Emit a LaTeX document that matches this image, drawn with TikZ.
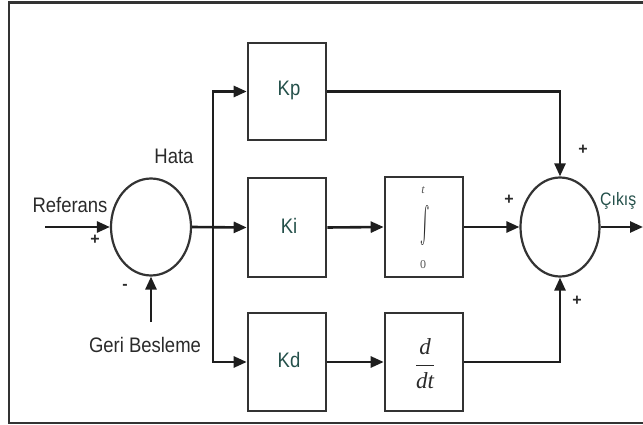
\documentclass[tikz,border=0pt]{standalone}
\usepackage{fontspec}
\usepackage{graphicx}
\setmainfont{Liberation Sans}
\newfontfamily\libserif{Liberation Serif}
\usetikzlibrary{arrows.meta,shapes.geometric}
\definecolor{linegray}{HTML}{1E1E1E}
\definecolor{framegray}{HTML}{333333}
\definecolor{labeltext}{HTML}{2A2A2A}
\definecolor{blocktext}{HTML}{24504A}
\newcommand{\nar}[1]{\scalebox{0.88}[1]{#1}}
\tikzset{
  conn/.style={draw=linegray, line width=2.6pt},
  arr/.style={conn, -{Triangle[length=13pt,width=11pt]}},
  block/.style={draw=framegray, line width=2.6pt, rectangle, minimum width=78pt, inner sep=0pt, fill=white},
  junction/.style={draw=framegray, line width=2.2pt, ellipse, inner sep=0pt},
  lbl/.style={font=\fontsize{21}{24}\selectfont, text=labeltext, inner sep=0pt},
  blbl/.style={font=\fontsize{21}{24}\selectfont, text=blocktext},
  sgn/.style={font=\bfseries\fontsize{16}{17}\selectfont, text=labeltext, inner sep=0pt},
  lim/.style={font=\libserif\fontsize{12}{13}\selectfont, text=labeltext!80, inner sep=0pt},
}
\begin{document}
\begin{tikzpicture}[x=1pt,y=-1pt]
\useasboundingbox (0,0) rectangle (643,425);
% frame (right side cut off)
\draw[draw=framegray, line width=2.2pt] (643,2.5) -- (9,2.5) -- (9,423) -- (643,423);

% junctions
\node[junction, minimum width=80pt, minimum height=97pt] (s1) at (151,227) {};
\node[junction, minimum width=79pt, minimum height=99pt] (s2) at (560,227) {};

% blocks
\node[block, minimum height=97pt] (kp) at (287,91.5) {};
\node[blbl] at (289,90) {\nar{Kp}};
\node[block, minimum height=99pt] (ki) at (287,227.5) {};
\node[blbl] at (289,226) {\nar{Ki}};
\node[block, minimum height=98pt] (kd) at (287,362) {};
\node[blbl] at (289,360) {\nar{Kd}};
\node[block, minimum height=100pt] (int) at (424,227) {};
\node[text=labeltext, inner sep=0pt] (intsign) at (425,226) {\scalebox{1.4}[3.6]{$\int$}};
\node[lim, font=\libserif\itshape\fontsize{12}{13}\selectfont] (intup) at (423,190) {t};
\node[lim] (intlo) at (423,265) {0};
\node[block, minimum height=98pt] (ddt) at (424,362) {};
\node[text=labeltext, font=\fontsize{23}{25}\selectfont] at (425,364) {$\displaystyle\frac{\mbox{\libserif\itshape d}}{\mbox{\libserif\itshape dt}}$};

% free ends
\coordinate (in) at (45,227);
\coordinate (fb) at (151,322);
\coordinate (br) at (213,227);
\coordinate (out) at (643,227);

% connectors
\draw[arr] (in) -- (s1.west);
\draw[arr] (fb) -- (s1.south);
\draw[arr] (s1.east) -- (ki.west);
\draw[arr] (br) |- (kp.west);
\draw[arr] (br) |- (kd.west);
\draw[arr] (ki.east) -- (int.west);
\draw[arr] (kd.east) -- (ddt.west);
\draw[arr] (int.east) -- (s2.west);
\draw[arr] (kp.east) -| (s2.north);
\draw[arr] (ddt.east) -| (s2.south);
\draw[arr] (s2.east) -- (out);

% labels
\node[lbl] at (174,156) {\nar{Hata}};
\node[lbl] at (70,205) {\nar{Referans}};
\node[lbl] at (145,345) {\nar{Geri Besleme}};
\node[lbl, anchor=west, text=blocktext, font=\fontsize{18}{20}\selectfont] at (600,201) {\nar{Çıkış}};
\node[sgn] at (95,240) {+};
\node[sgn] at (125,287) {-};
\node[sgn] at (509,200) {+};
\node[sgn] at (583,150) {+};
\node[sgn] at (577,301) {+};
\end{tikzpicture}
\end{document}
